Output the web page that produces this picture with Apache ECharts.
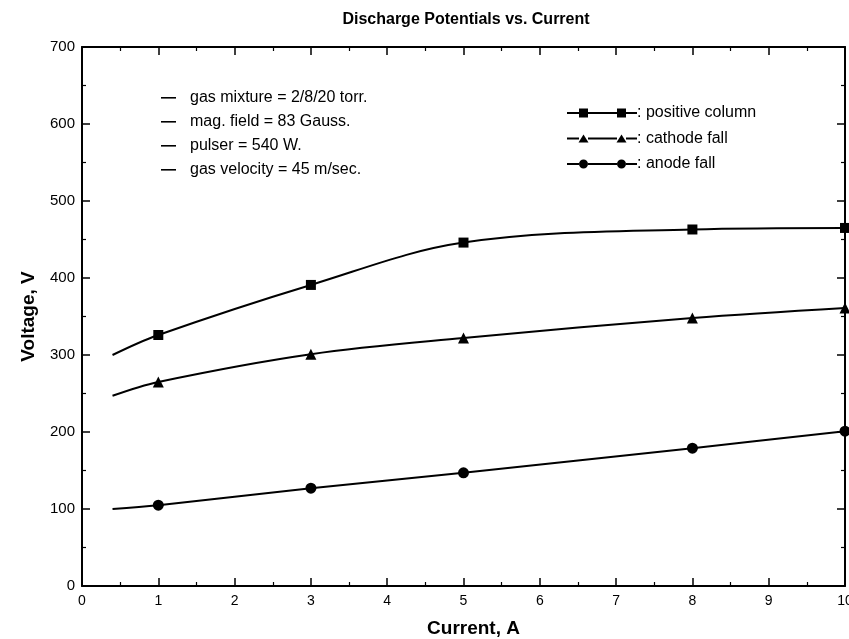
<!DOCTYPE html>
<html>
<head>
<meta charset="utf-8">
<script src="https://cdn.jsdelivr.net/npm/echarts@6/dist/echarts.min.js"></script>
<style>
  html, body { margin: 0; padding: 0; background: #fff; }
  #chart { width: 849px; height: 639px; }
</style>
</head>
<body>
<div id="chart"></div>
<script>
// values; first point of each series is where the curve starts (no marker)
var currentA = [0.4, 1, 3, 5, 8, 10]
var positiveColumn = [300, 326, 391, 446, 463, 465]
var cathodeFall = [247, 265, 301, 322, 348, 361]
var anodeFall = [100, 105, 127, 147, 179, 201]

var xTicks = [0, 1, 2, 3, 4, 5, 6, 7, 8, 9, 10]
var yTicks = [0, 100, 200, 300, 400, 500, 600, 700]

var notes = [
  'gas mixture = 2/8/20 torr.',
  'mag. field = 83 Gauss.',
  'pulser = 540 W.',
  'gas velocity = 45 m/sec.'
]

var font = 'Liberation Sans, Arial, sans-serif'

function pairs(ys) {
  return ys.map(function (v, i) {
    var item = { value: [currentA[i], v] }
    if (i === 0) item.symbol = 'none'
    return item
  })
}

// legend icons: line with two markers, 70 x 10 box, line pieces kept apart from markers
var seg = 'M0,4H12V6H0Z M21,4H50V6H21Z M59,4H70V6H59Z '
var iconSquare = 'path://' + seg + 'M12,0.5H21V9.5H12Z M50,0.5H59V9.5H50Z M0,0H0.1V0.1H0Z M0,9.9H0.1V10H0Z'
var iconTriangle = 'path://' + seg + 'M11.5,9L16.5,1L21.5,9Z M49.5,9L54.5,1L59.5,9Z M0,0H0.1V0.1H0Z M0,9.9H0.1V10H0Z'
var iconCircle = 'path://' + seg +
  'M12,5A4.5,4.5 0 1,1 21,5A4.5,4.5 0 1,1 12,5Z M50,5A4.5,4.5 0 1,1 59,5A4.5,4.5 0 1,1 50,5Z M0,0H0.1V0.1H0Z M0,9.9H0.1V10H0Z'

var chart = echarts.init(document.getElementById('chart'))

function axisLine() { return { show: true, onZero: false, lineStyle: { color: '#000', width: 2 } } }
var tick = { show: true, inside: true, length: 8, lineStyle: { color: '#000', width: 1.5 } }
var minor = { show: true, splitNumber: 2, length: 4, lineStyle: { color: '#000', width: 1.2 } }

var option = {
  backgroundColor: '#fff',
  animation: false,
  title: {
    text: 'Discharge Potentials vs. Current',
    left: 461,
    top: 7,
    textAlign: 'center',
    textStyle: { fontFamily: font, fontSize: 16, fontWeight: 'bold', color: '#000' }
  },
  grid: { left: 82, top: 47, right: 4, bottom: 53, outerBoundsMode: 'none', containLabel: false },
  legend: {
    orient: 'vertical',
    left: 567,
    top: 105,
    padding: 0,
    itemWidth: 70,
    itemHeight: 10,
    itemGap: 9.5,
    selectedMode: false,
    formatter: function (name) { return ': ' + name },
    textStyle: { fontFamily: font, fontSize: 16, color: '#000', padding: [0, 0, 0, -5] },
    data: [
      { name: 'positive column', icon: iconSquare },
      { name: 'cathode fall', icon: iconTriangle },
      { name: 'anode fall', icon: iconCircle }
    ]
  },
  xAxis: [
    {
      type: 'value', min: 0, max: 10, interval: 1,
      name: 'Current, A', nameLocation: 'middle', nameGap: 33,
      nameTextStyle: { fontFamily: font, fontSize: 19, fontWeight: 'bold', color: '#000', padding: [0, 0, 0, 20] },
      axisLine: axisLine(), axisTick: tick, minorTick: minor,
      axisLabel: { fontFamily: font, fontSize: 14, color: '#000', margin: 8,
        formatter: function (v) { return xTicks.indexOf(v) >= 0 ? String(v) : '' } },
      splitLine: { show: false }
    },
    {
      type: 'value', min: 0, max: 10, interval: 1, position: 'top',
      axisLine: axisLine(), axisTick: tick, minorTick: minor,
      axisLabel: { show: false }, splitLine: { show: false }
    }
  ],
  yAxis: [
    {
      type: 'value', min: 0, max: 700, interval: 100,
      name: 'Voltage, V', nameLocation: 'middle', nameGap: 44,
      nameTextStyle: { fontFamily: font, fontSize: 19, fontWeight: 'bold', color: '#000' },
      axisLine: axisLine(), axisTick: tick, minorTick: minor,
      axisLabel: { fontFamily: font, fontSize: 15, color: '#000', margin: 7,
        formatter: function (v) { return yTicks.indexOf(v) >= 0 ? String(v) : '' } },
      splitLine: { show: false }
    },
    {
      type: 'value', min: 0, max: 700, interval: 100, position: 'right',
      axisLine: axisLine(), axisTick: tick, minorTick: minor,
      axisLabel: { show: false }, splitLine: { show: false }
    }
  ],
  graphic: notes.map(function (t, i) {
    return {
      type: 'group',
      left: 161,
      top: 90 + i * 24,
      children: [
        { type: 'rect', shape: { x: 0, y: 7, width: 15, height: 1.6 }, style: { fill: '#000' } },
        { type: 'text', x: 29, y: 0, style: { text: t, fontFamily: font, fontSize: 16, fill: '#000' } }
      ]
    }
  }),
  series: [
    {
      name: 'positive column', type: 'line', data: pairs(positiveColumn),
      smooth: 0.35, symbol: 'rect', symbolSize: 10,
      lineStyle: { color: '#000', width: 2 }, itemStyle: { color: '#000' }
    },
    {
      name: 'cathode fall', type: 'line', data: pairs(cathodeFall),
      smooth: 0.35, symbol: 'triangle', symbolSize: 11,
      lineStyle: { color: '#000', width: 2 }, itemStyle: { color: '#000' }
    },
    {
      name: 'anode fall', type: 'line', data: pairs(anodeFall),
      smooth: 0.35, symbol: 'circle', symbolSize: 11,
      lineStyle: { color: '#000', width: 2 }, itemStyle: { color: '#000' }
    }
  ]
}

chart.setOption(option)
</script>
</body>
</html>
